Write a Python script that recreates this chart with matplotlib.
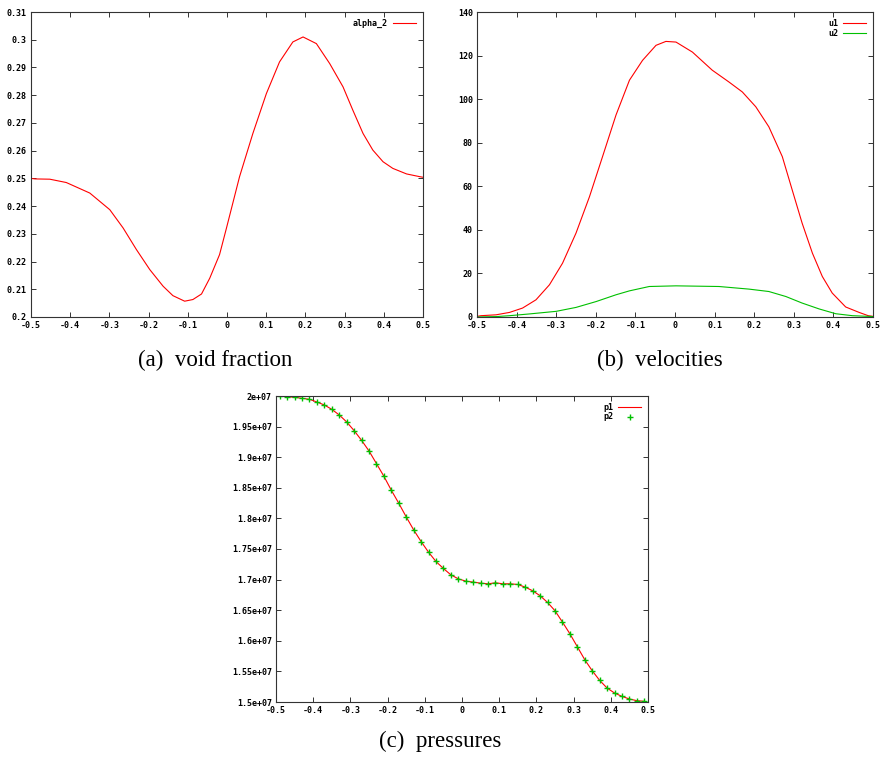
"""Two-phase shock tube results: void fraction, velocities, pressures."""

import matplotlib

matplotlib.use("Agg")
import matplotlib.pyplot as plt
from matplotlib.ticker import FuncFormatter, MultipleLocator

# (a) void fraction
alpha_x = [-0.5, -0.490, -0.452, -0.410, -0.350, -0.299, -0.265, -0.231, -0.197, -0.163,
           -0.138, -0.108, -0.087, -0.065, -0.044, -0.019, -0.0015, 0.032, 0.066, 0.1005,
           0.134, 0.168, 0.194, 0.228, 0.262, 0.296, 0.321, 0.347, 0.372, 0.398,
           0.423, 0.458, 0.492, 0.5]
alpha_2 = [0.2500, 0.2498, 0.2497, 0.2485, 0.2447, 0.2387, 0.2321, 0.2243, 0.2171, 0.2111,
           0.2077, 0.2057, 0.2063, 0.2083, 0.2140, 0.2225, 0.2320, 0.2506, 0.2662, 0.2806,
           0.2920, 0.2992, 0.3010, 0.2986, 0.2914, 0.2830, 0.2746, 0.2662, 0.2602, 0.2560,
           0.2536, 0.2516, 0.2506, 0.2504]

# (b) velocities
u1_x = [-0.5, -0.490, -0.452, -0.418, -0.385, -0.351, -0.317, -0.284, -0.25, -0.216,
        -0.183, -0.149, -0.115, -0.082, -0.048, -0.023, 0.0025, 0.044, 0.094, 0.136,
        0.170, 0.204, 0.237, 0.271, 0.296, 0.321, 0.347, 0.372, 0.397, 0.431,
        0.465, 0.488, 0.5]
u1 = [0.3, 0.6, 1.0, 2.1, 4.1, 7.9, 14.8, 24.7, 38.5, 55.2,
      73.6, 92.7, 108.7, 117.8, 124.7, 126.5, 126.2, 121.6, 113.3, 107.9,
      103.3, 96.5, 87.3, 73.6, 58.3, 43.1, 29.3, 18.6, 11.0, 4.6,
      2.1, 0.6, 0.3]
u2_x = [-0.5, -0.45, -0.418, -0.368, -0.30, -0.25, -0.199, -0.149, -0.115, -0.065,
        0.0025, 0.111, 0.187, 0.237, 0.280, 0.321, 0.364, 0.406, 0.448, 0.488, 0.5]
u2 = [0.0, 0.2, 0.6, 1.4, 2.6, 4.4, 7.1, 10.2, 12.0, 14.0,
      14.3, 14.0, 12.8, 11.7, 9.4, 6.4, 3.7, 1.5, 0.6, 0.3, 0.2]

# (c) pressures (cell centres)
p_x = [-0.49, -0.47, -0.45, -0.43, -0.41, -0.39, -0.37, -0.35, -0.33, -0.31,
       -0.29, -0.27, -0.25, -0.23, -0.21, -0.19, -0.17, -0.15, -0.13, -0.11,
       -0.09, -0.07, -0.05, -0.03, -0.01, 0.01, 0.03, 0.05, 0.07, 0.09,
       0.11, 0.13, 0.15, 0.17, 0.19, 0.21, 0.23, 0.25, 0.27, 0.29,
       0.31, 0.33, 0.35, 0.37, 0.39, 0.41, 0.43, 0.45, 0.47, 0.49]
p1 = [2.0000e7, 1.9989e7, 1.9978e7, 1.9962e7, 1.9946e7, 1.9902e7, 1.9853e7, 1.9782e7, 1.9690e7, 1.9576e7,
      1.9434e7, 1.9276e7, 1.9102e7, 1.8896e7, 1.8689e7, 1.8460e7, 1.8248e7, 1.8025e7, 1.7813e7, 1.7622e7,
      1.7448e7, 1.7296e7, 1.7182e7, 1.7078e7, 1.7013e7, 1.6975e7, 1.6959e7, 1.6942e7, 1.6931e7, 1.6948e7,
      1.6931e7, 1.6931e7, 1.6920e7, 1.6877e7, 1.6817e7, 1.6736e7, 1.6627e7, 1.6491e7, 1.6306e7, 1.6115e7,
      1.5903e7, 1.5691e7, 1.5511e7, 1.5354e7, 1.5228e7, 1.5147e7, 1.5092e7, 1.5049e7, 1.5022e7, 1.5011e7]
p2 = list(p1)

RED = "#ff0000"
GREEN = "#00c000"
TICK_FONT = {"family": "DejaVu Sans Mono", "weight": "bold", "size": 6}


def style_axes(ax, ymin, ymax, ystep):
    ax.set_xlim(-0.5, 0.5)
    ax.set_ylim(ymin, ymax)
    ax.xaxis.set_major_locator(MultipleLocator(0.1))
    ax.yaxis.set_major_locator(MultipleLocator(ystep))
    fmt = FuncFormatter(lambda v, _: f"{round(v, 10):g}")
    ax.xaxis.set_major_formatter(fmt)
    ax.yaxis.set_major_formatter(fmt)
    ax.tick_params(direction="in", top=True, right=True, length=3.5,
                   width=0.7, color="#333333", pad=3)
    for lab in ax.get_xticklabels() + ax.get_yticklabels():
        lab.set_fontproperties(TICK_FONT)
    for sp in ax.spines.values():
        sp.set_color("#333333")
        sp.set_linewidth(0.8)


def add_legend(ax):
    return ax.legend(loc="upper right", frameon=False, markerfirst=False,
                     handlelength=2.8, handletextpad=0.6, labelspacing=0.1,
                     borderaxespad=0.4, prop=TICK_FONT)


W, H = 883, 757
fig = plt.figure(figsize=(W / 100, H / 100), dpi=100)

ax_a = fig.add_axes([31 / W, 1 - 317 / H, 392 / W, 305 / H])
ax_a.plot(alpha_x, alpha_2, color=RED, lw=0.8, label="alpha_2")
style_axes(ax_a, 0.2, 0.31, 0.01)
add_legend(ax_a)

ax_b = fig.add_axes([477 / W, 1 - 317 / H, 396 / W, 305 / H])
ax_b.plot(u1_x, u1, color=RED, lw=0.8, label="u1")
ax_b.plot(u2_x, u2, color=GREEN, lw=0.8, label="u2")
style_axes(ax_b, 0, 140, 20)
add_legend(ax_b)

ax_c = fig.add_axes([276 / W, 1 - 702 / H, 372 / W, 306 / H])
ax_c.plot(p_x, p1, color=RED, lw=0.8, label="p1")
ax_c.plot(p_x, p2, ls="none", marker="+", ms=5, mew=1.0, color=GREEN, label="p2")
style_axes(ax_c, 1.5e7, 2.0e7, 0.05e7)
add_legend(ax_c)

cap_font = {"family": "Liberation Serif", "size": 16.5}
fig.text(215 / W, 1 - 360 / H, "(a)  void fraction", ha="center", va="center", **cap_font)
fig.text(660 / W, 1 - 360 / H, "(b)  velocities", ha="center", va="center", **cap_font)
fig.text(440 / W, 1 - 741 / H, "(c)  pressures", ha="center", va="center", **cap_font)

fig.savefig("out.png", dpi=100)
